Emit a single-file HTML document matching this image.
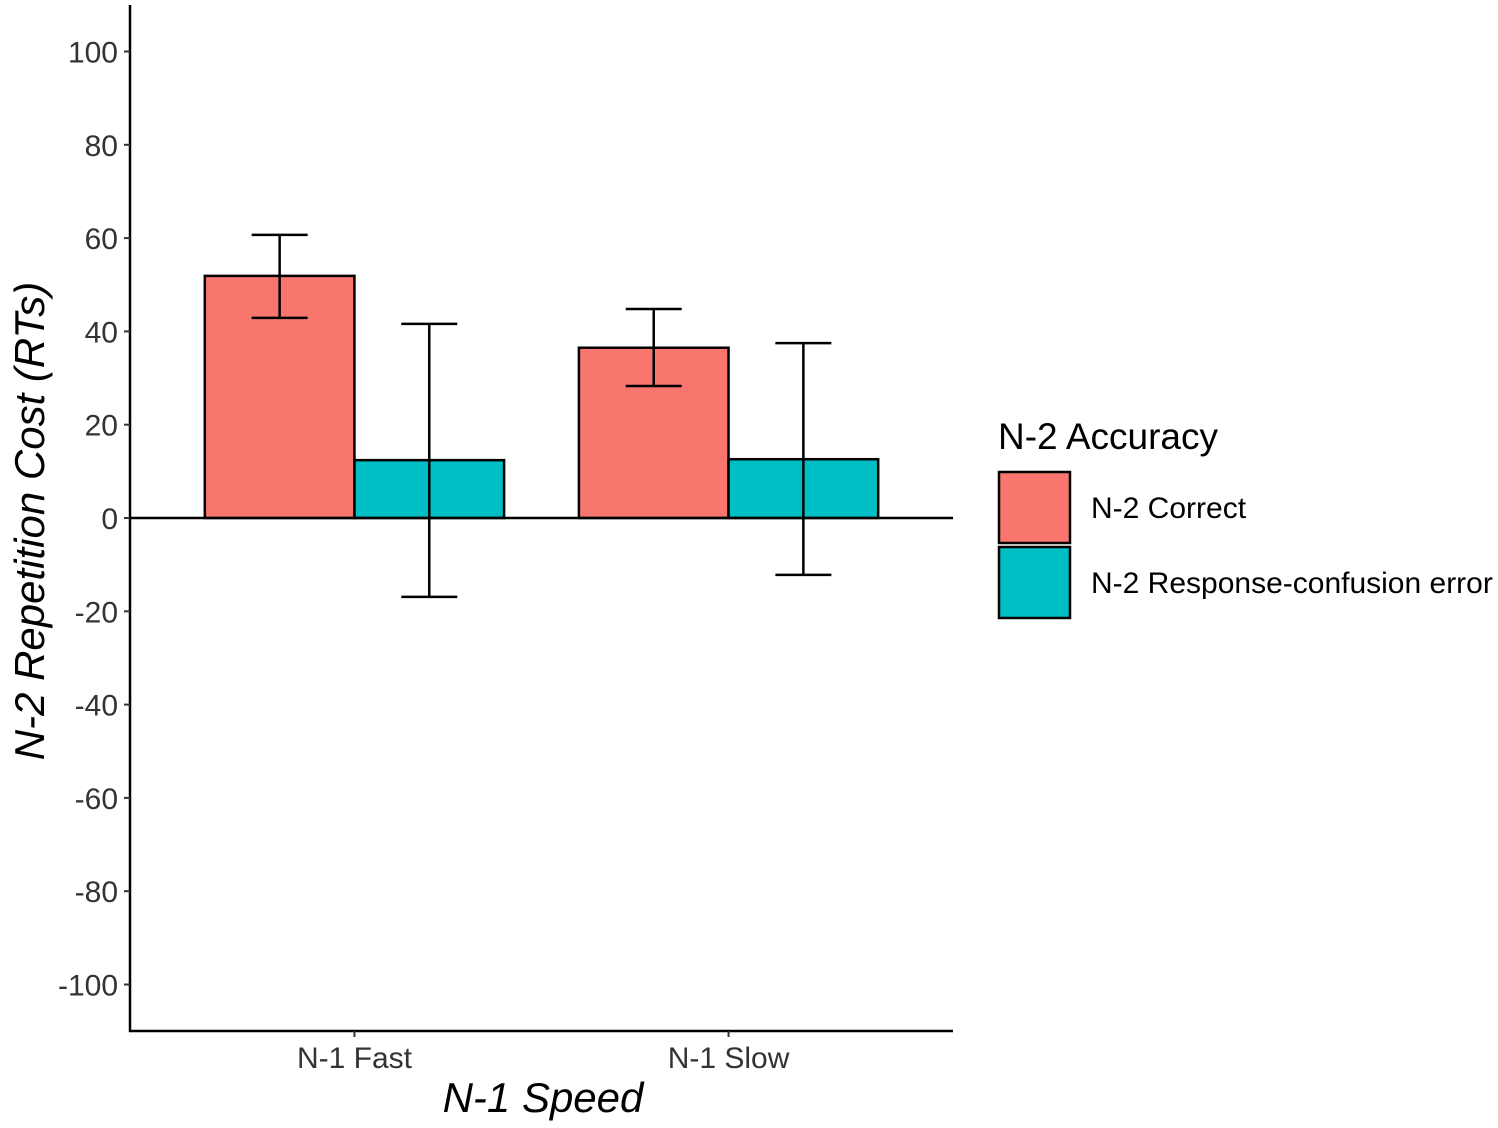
<!DOCTYPE html>
<html><head><meta charset="utf-8">
<style>
html,body{margin:0;padding:0;background:#fff;}
svg{display:block;font-family:"Liberation Sans",Arial,sans-serif;}
</style></head>
<body>
<svg id="chart" width="1498" height="1128" viewBox="0 0 1498 1128"></svg>
<script>
const categories = ["N-1 Fast", "N-1 Slow"];
const seriesNames = ["N-2 Correct", "N-2 Response-confusion error"];
const correctValues = [51.9, 36.5];
const correctLow = [42.9, 28.3];
const correctHigh = [60.7, 44.8];
const errorValues = [12.4, 12.6];
const errorLow = [-16.9, -12.2];
const errorHigh = [41.6, 37.5];
const yTicks = [100, 80, 60, 40, 20, 0, -20, -40, -60, -80, -100];
const colors = ["#F8766D", "#00BFC4"];

const NS = "http://www.w3.org/2000/svg";
const svgEl = document.getElementById("chart");
const plotLeft = 130, plotRight = 953, plotTop = 5, plotBottom = 1031;
function yScale(v){ return 518 - v * 4.665; }
const unitW = (plotRight - plotLeft) / 2.2;
function xCenter(i){ return plotLeft + (0.6 + i) * unitW; }
const barW = unitW * 0.4;

function mk(tag, attrs, parent){
  const e = document.createElementNS(NS, tag);
  for (const k in attrs) e.setAttribute(k, attrs[k]);
  (parent || svgEl).appendChild(e);
  return e;
}

const groups = [
  {vals: correctValues, lo: correctLow, hi: correctHigh},
  {vals: errorValues, lo: errorLow, hi: errorHigh}
];
groups.forEach((g, s) => {
  categories.forEach((c, i) => {
    const x0 = xCenter(i) - barW + s * barW;
    const v = g.vals[i];
    const r = mk("rect", {x: x0, y: Math.min(yScale(v), yScale(0)), width: barW, height: Math.abs(yScale(v) - yScale(0)), fill: colors[s], stroke: "#000", "stroke-width": 2.5});
    
    
  });
});
const zl = mk("line", {x1: plotLeft, x2: plotRight, y1: yScale(0), y2: yScale(0), stroke: "#000", "stroke-width": 2.5});


groups.forEach((g, s) => {
  categories.forEach((c, i) => {
    const cx = xCenter(i) - barW / 2 + s * barW;
    const eg = mk("g", {stroke: "#000", "stroke-width": 2.5, fill: "none"});
    
    
    mk("line", {x1: cx, x2: cx, y1: yScale(g.lo[i]), y2: yScale(g.hi[i])}, eg);
    mk("line", {x1: cx - 28, x2: cx + 28, y1: yScale(g.lo[i]), y2: yScale(g.lo[i])}, eg);
    mk("line", {x1: cx - 28, x2: cx + 28, y1: yScale(g.hi[i]), y2: yScale(g.hi[i])}, eg);
  });
});

const ya = mk("line", {x1: plotLeft, x2: plotLeft, y1: plotTop, y2: plotBottom + 1, stroke: "#000", "stroke-width": 2.5});


const xa = mk("line", {x1: plotLeft - 1, x2: plotRight, y1: plotBottom, y2: plotBottom, stroke: "#000", "stroke-width": 2.5});



yTicks.forEach(t => {
  mk("line", {x1: plotLeft - 6, x2: plotLeft, y1: yScale(t), y2: yScale(t), stroke: "#333", "stroke-width": 2});
  const tx = mk("text", {x: 118, y: yScale(t) + 11, "text-anchor": "end", "font-size": 30, fill: "#333"});
  tx.textContent = t;
  
  
});
categories.forEach((c, i) => {
  mk("line", {x1: xCenter(i), x2: xCenter(i), y1: plotBottom, y2: plotBottom + 6, stroke: "#333", "stroke-width": 2});
  const tx = mk("text", {x: xCenter(i), y: 1068, "text-anchor": "middle", "font-size": 30, fill: "#333"});
  tx.textContent = c;
  
  
});

const xt = mk("text", {x: 543, y: 1112, "text-anchor": "middle", "font-size": 42, "font-style": "italic", fill: "#000"});
xt.textContent = "N-1 Speed";


const yt = mk("text", {x: 0, y: 0, "text-anchor": "middle", "font-size": 42, "font-style": "italic", fill: "#000", transform: "translate(44,521) rotate(-90)"});
yt.textContent = "N-2 Repetition Cost (RTs)";



const lt = mk("text", {x: 998, y: 449, "font-size": 37, fill: "#000"});
lt.textContent = "N-2 Accuracy";


seriesNames.forEach((n, s) => {
  const ky = 472 + s * 75;
  const kr = mk("rect", {x: 999, y: ky, width: 71, height: 71, fill: colors[s], stroke: "#000", "stroke-width": 2.5});
  
  
  const lx = mk("text", {x: 1091, y: ky + 46, "font-size": 30, fill: "#000"});
  lx.textContent = n;
  
  
});
</script>
</body></html>
